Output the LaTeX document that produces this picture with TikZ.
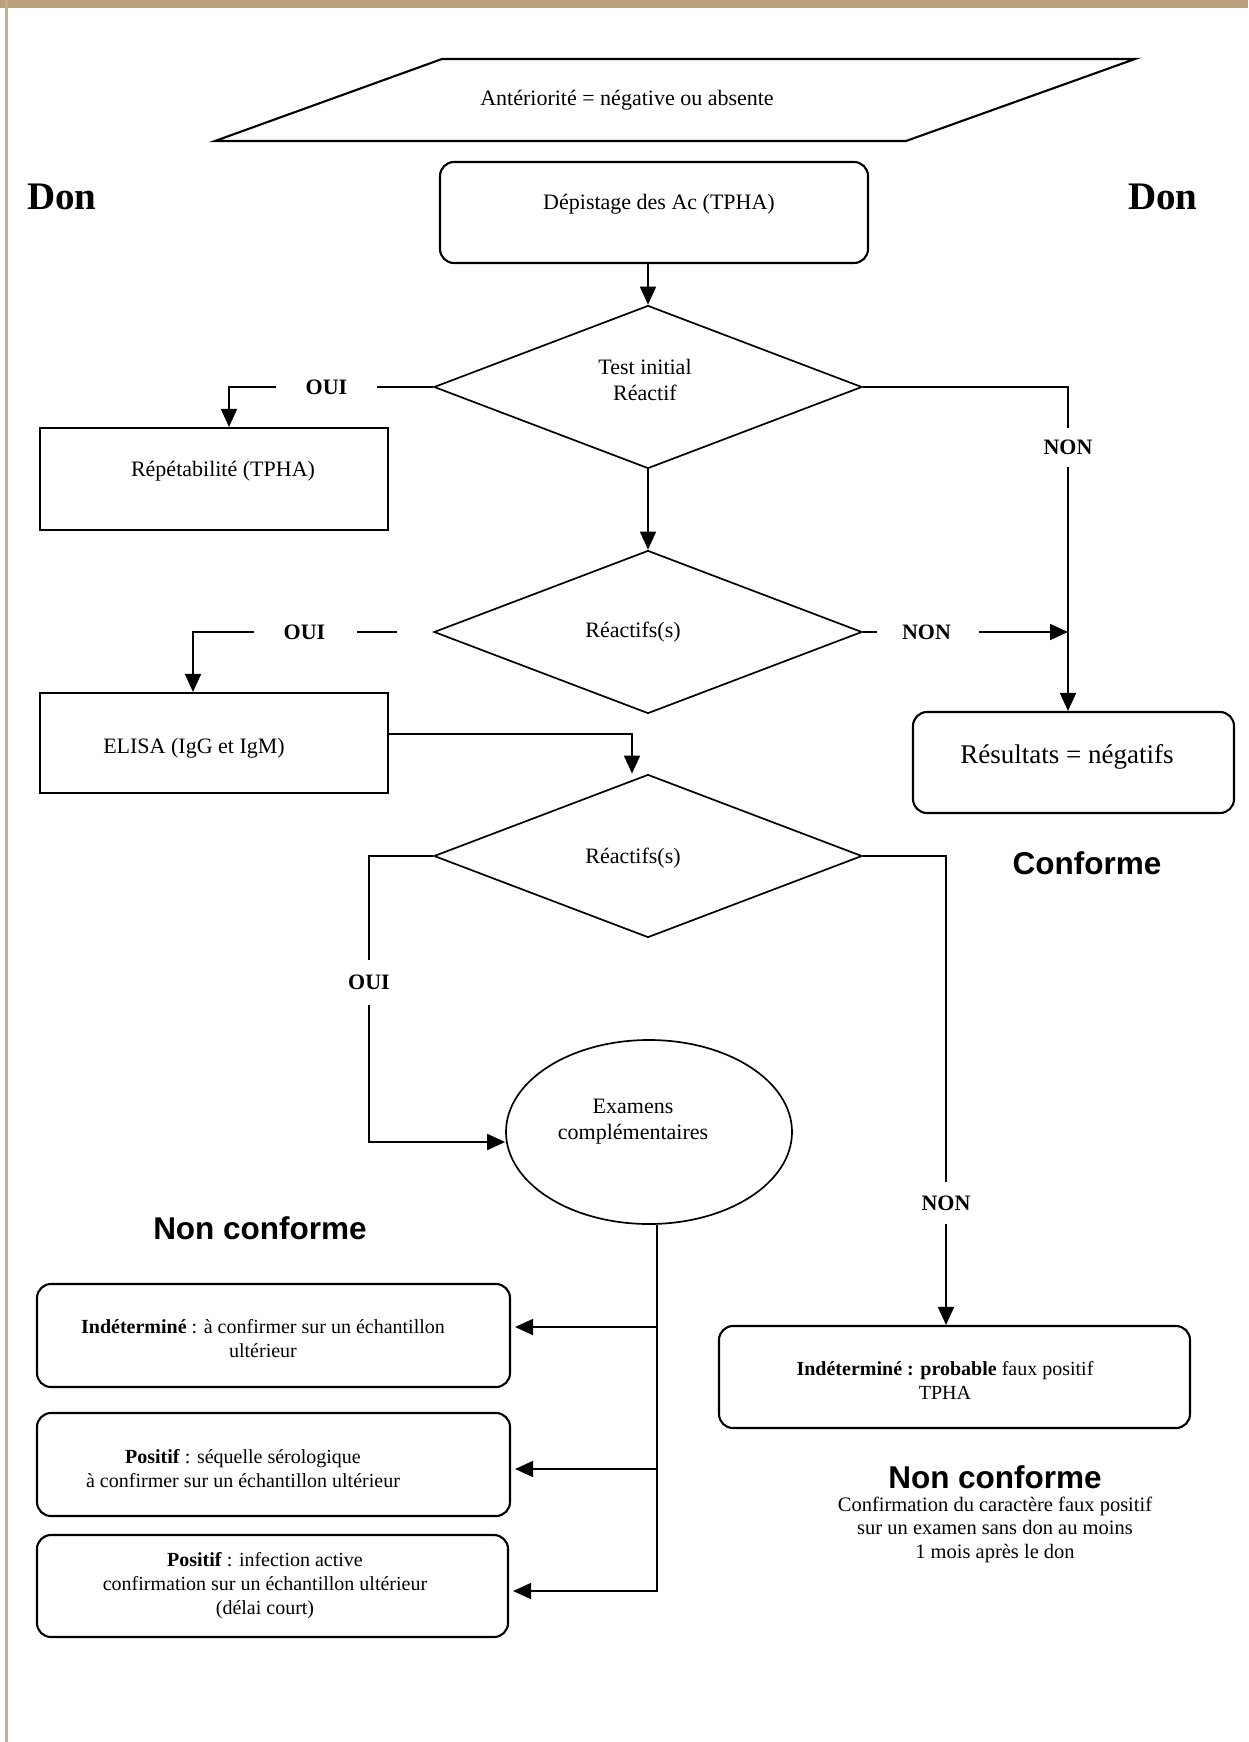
\documentclass[tikz,border=0pt]{standalone}
\usepackage{fontspec}
\setmainfont{Liberation Serif}
\setsansfont{Liberation Sans}
\usetikzlibrary{shapes.geometric,arrows.meta}
\definecolor{tanbar}{HTML}{BBA27B}
\definecolor{tanline}{HTML}{C6AE86}
\begin{document}
\begin{tikzpicture}[x=1pt,y=-1pt,
  box/.style={draw, line width=2.1pt, inner sep=0pt},
  rbox/.style={box, rounded corners=14pt},
  dia/.style={diamond, draw, line width=1.7pt, minimum width=428pt, minimum height=163pt, inner sep=0pt},
  txt/.style={font=\fontsize{22}{26}\selectfont, align=center, inner sep=0pt},
  btxt/.style={font=\fontsize{20}{24}\selectfont, align=center, inner sep=0pt},
  lbl/.style={font=\bfseries\fontsize{22}{26}\selectfont, inner sep=0pt},
  conn/.style={line width=1.7pt},
  arr/.style={conn, -{Triangle[length=18pt,width=16pt]}},
  big/.style={font=\sffamily\bfseries\fontsize{31.5}{36}\selectfont, inner sep=0pt},
  don/.style={font=\bfseries\fontsize{39}{44}\selectfont, inner sep=0pt}]
\useasboundingbox (0,0) rectangle (1248,1742);
\fill[white] (0,0) rectangle (1248,1742);
\fill[tanbar] (0,0) rectangle (1248,8);
\fill[tanline] (4.5,0) rectangle (7.5,1742);

% top parallelogram
\draw[line width=2.1pt] (442,59) -- (1135,59) -- (906,141) -- (215,141) -- cycle;
\node[txt] (ant) at (627,100) {Antériorité = négative ou absente};

\node[don] (donl) at (62,197) {Don};
\node[don] (donr) at (1163,197) {Don};

% Depistage
\node[rbox, minimum width=428pt, minimum height=101pt] (dep) at (654,212.5) {};
\node[txt] (tdep) at (659,204) {Dépistage des Ac (TPHA)};

% diamonds
\node[dia] (d1) at (648,387) {};
\node[txt] (td1) at (645,380) {Test initial\\Réactif};
\node[dia] (d2) at (648,632) {};
\node[txt] (td2) at (633,632) {Réactifs(s)};
\node[dia] (d3) at (648,856) {};
\node[txt] (td3) at (633,858) {Réactifs(s)};

% left boxes
\node[box, minimum width=348pt, minimum height=102pt] (rep) at (214,479) {};
\node[txt] (trep) at (223,471) {Répétabilité (TPHA)};
\node[box, minimum width=348pt, minimum height=100pt] (elisa) at (214,743) {};
\node[txt] (telisa) at (194,748) {ELISA (IgG et IgM)};

% resultats
\node[rbox, minimum width=321pt, minimum height=101pt] (res) at (1073.5,762.5) {};
\node[txt, font=\fontsize{27}{31}\selectfont] (tres) at (1067,757) {Résultats = négatifs};
\node[big] (conf) at (1087,863) {Conforme};

% ellipse
\node[ellipse, draw, line width=1.7pt, minimum width=286pt, minimum height=184pt, inner sep=0pt] (ell) at (649,1132) {};
\node[txt] (tell) at (633,1122) {Examens\\complémentaires};

\node[big] (ncl) at (260,1228) {Non conforme};

% bottom boxes
\node[rbox, minimum width=473pt, minimum height=103pt] (boxa) at (273.5,1335.5) {};
\node[btxt] (tboxa) at (263,1339) {\textbf{Indéterminé} : à confirmer sur un échantillon\\ultérieur};
\node[rbox, minimum width=473pt, minimum height=103pt] (boxb) at (273.5,1464.5) {};
\node[btxt] (tboxb) at (243,1468.5) {\textbf{Positif} : séquelle sérologique\\à confirmer sur un échantillon ultérieur};
\node[rbox, minimum width=471pt, minimum height=102pt] (boxc) at (272.5,1586) {};
\node[btxt] (tboxc) at (265,1585.5) {\textbf{Positif} : infection active\\confirmation sur un échantillon ultérieur\\(délai court)};
\node[rbox, minimum width=471pt, minimum height=102pt] (boxd) at (954.5,1377) {};
\node[btxt] (tboxd) at (945,1380) {\textbf{Indéterminé : probable} faux positif\\TPHA};

\node[big] (ncr) at (995,1477) {Non conforme};
\node[btxt, font=\fontsize{20.5}{23.5}\selectfont] (tncr) at (995,1529.5) {Confirmation du caractère faux positif\\sur un examen sans don au moins\\1 mois après le don};

% labels
\node[lbl, inner xsep=30pt] (oui1) at (326.5,387) {OUI};
\node[lbl, inner ysep=12pt] (non1) at (1068,447.5) {NON};
\node[lbl] (oui2) at (304.5,632) {OUI};
\node[lbl] (non2) at (926.5,632) {NON};
\node[lbl, inner ysep=15pt] (oui3) at (369,982.5) {OUI};
\node[lbl, inner ysep=13pt] (non3) at (946,1203) {NON};

% connectors
\draw[arr] (dep.south -| d1.north) -- (d1.north);
\draw[conn] (d1.west) -- (oui1.east);
\draw[arr] (oui1.west) -| ([xshift=15pt]rep.north);
\draw[conn] (d1.east) -| (non1.north);
\draw[arr] (non1.south) -- (non1.south |- res.north);
\draw[arr] (d1.south) -- (d2.north);

\draw[conn] ([xshift=32pt]oui2.east) -- ([xshift=-36pt]d2.west);
\draw[arr] ([xshift=-30pt]oui2.west) -| ([xshift=-21pt]elisa.north);
\draw[conn] (d2.east) -- ([xshift=14pt]d2.east);
\coordinate (j2) at (non1.south |- d2.east);
\draw[arr] ([xshift=28pt]non2.east) -- (j2);

\draw[arr] ([yshift=9pt]elisa.east) -| ([xshift=-16pt]d3.north);
\draw[conn] (d3.west) -| (oui3.north);
\draw[arr] (oui3.south) |- ([yshift=-10pt]ell.west);
\draw[conn] (d3.east) -| (non3.north);
\draw[arr] (non3.south) -- (non3.south |- boxd.north);

\coordinate (e0) at ([xshift=8pt]ell.south);
\draw[arr, shorten >=4pt] (e0) |- ([yshift=-5pt]boxc.east);
\draw[arr, shorten >=4pt] ([yshift=8.5pt]boxa.east -| e0) -- ([yshift=8.5pt]boxa.east);
\draw[arr, shorten >=4pt] ([yshift=-4.5pt]boxb.east -| e0) -- ([yshift=-4.5pt]boxb.east);
\end{tikzpicture}
\end{document}
